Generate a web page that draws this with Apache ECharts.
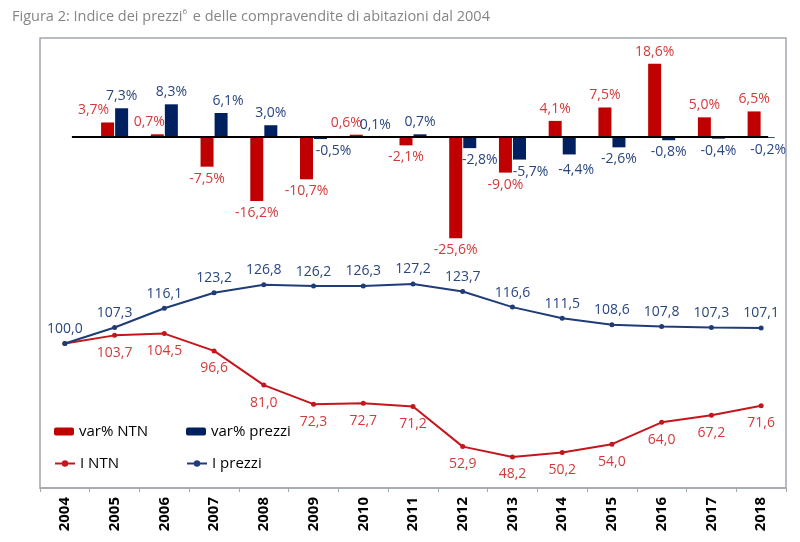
<!DOCTYPE html>
<html>
<head>
<meta charset="utf-8">
<title>Indice dei prezzi e delle compravendite di abitazioni</title>
<script src="https://cdn.jsdelivr.net/npm/echarts@6/dist/echarts.min.js"></script>
<style>
  html, body { margin: 0; padding: 0; background: #fff; }
  #chart { width: 800px; height: 542px; }
</style>
</head>
<body>
<div id="chart"></div>
<script>
// anni
const years = ['2004', '2005', '2006', '2007', '2008', '2009', '2010', '2011',
  '2012', '2013', '2014', '2015', '2016', '2017', '2018'];
// variazioni % annue (nessun dato per il 2004)
const varNtn = [null, 3.7, 0.7, -7.5, -16.2, -10.7, 0.6, -2.1, -25.6, -9.0, 4.1, 7.5, 18.6, 5.0, 6.5];
const varPrezzi = [null, 7.3, 8.3, 6.1, 3.0, -0.5, 0.1, 0.7, -2.8, -5.7, -4.4, -2.6, -0.8, -0.4, -0.2];
// numeri indice, 2004 = 100
const indNtn = [100.0, 103.7, 104.5, 96.6, 81.0, 72.3, 72.7, 71.2, 52.9, 48.2, 50.2, 54.0, 64.0, 67.2, 71.6];
const indPrezzi = [100.0, 107.3, 116.1, 123.2, 126.8, 126.2, 126.3, 127.2, 123.7, 116.6, 111.5, 108.6, 107.8, 107.3, 107.1];

// colori
const RED = '#c00000';
const NAVY = '#002060';
const RED_TXT = '#d33a3a';
const NAVY_TXT = '#2a4680';
const FONT = '"Open Sans", "Liberation Sans", sans-serif';

// piccoli spostamenti delle etichette (indice anno -> [dx, dy]), come nell'originale
const shiftNtn = { 1: [-14, 0], 2: [-8, 0], 6: [-10, 0] };
const shiftPrezzi = { 3: [7, 0], 5: [13, 0], 6: [5, 0], 8: [10, 0], 9: [11, 0], 10: [7, 4] };

const fmt = (v, pct) => v.toFixed(1).replace('.', ',') + (pct ? '%' : '');

function barData(values, shift) {
  return values.map((v, i) => {
    if (v === null) return null;
    return {
      value: v,
      label: {
        position: v < 0 ? 'bottom' : 'top',
        offset: shift[i] || [0, 0]
      }
    };
  });
}

const chart = echarts.init(document.getElementById('chart'));

const legendText = { color: '#000', fontSize: 15, fontFamily: FONT };

chart.setOption({
  animation: false,
  backgroundColor: '#fff',
  title: {
    text: '{a|Figura 2: Indice dei prezzi}{s|6}{a| e delle compravendite di abitazioni dal 2004}',
    left: 7,
    top: 3,
    textStyle: {
      fontWeight: 'normal',
      rich: {
        a: { color: '#858585', fontSize: 14.5, fontWeight: 'normal', fontFamily: FONT },
        s: { color: '#858585', fontSize: 8, fontWeight: 'normal', fontFamily: FONT, padding: [0, 2, 9, 0] }
      }
    }
  },
  legend: [
    { data: ['var% NTN'], left: 54, top: 424, itemWidth: 20, itemHeight: 8, itemGap: 0, textStyle: legendText, padding: 0 },
    { data: ['var% prezzi'], left: 186, top: 424, itemWidth: 20, itemHeight: 8, itemGap: 0, textStyle: legendText, padding: 0 },
    { data: ['I NTN'], left: 54, top: 456, itemWidth: 20, itemHeight: 8, itemGap: 0, textStyle: legendText, padding: 0 },
    { data: ['I prezzi'], left: 186, top: 456, itemWidth: 20, itemHeight: 8, itemGap: 0, textStyle: legendText, padding: 0 }
  ],
  grid: {
    left: 40,
    right: 14,
    top: 38,
    bottom: 54,
    show: true,
    borderColor: '#a3a8b0',
    borderWidth: 1.5
  },
  xAxis: {
    type: 'category',
    data: years,
    boundaryGap: true,
    axisLine: { onZero: false, lineStyle: { color: '#a3a8b0', width: 1.5 } },
    axisTick: { show: true, length: 4, lineStyle: { color: '#a3a8b0' } },
    axisLabel: {
      rotate: 90,
      margin: 9,
      color: '#000',
      fontWeight: 'bold',
      fontSize: 15,
      fontFamily: FONT,
      interval: 0
    },
    splitLine: { show: false }
  },
  yAxis: [
    // scala delle variazioni %
    { type: 'value', min: -88.9, max: 25.1, show: false, splitLine: { show: false } },
    // scala dei numeri indice
    { type: 'value', min: 34, max: 239.5, show: false, splitLine: { show: false } }
  ],
  series: [
    {
      name: 'var% NTN',
      type: 'bar',
      yAxisIndex: 0,
      data: barData(varNtn, shiftNtn),
      barWidth: 13,
      barGap: '8%',
      itemStyle: { color: RED },
      label: {
        show: true,
        distance: 5,
        color: RED_TXT,
        fontSize: 14,
        fontFamily: FONT,
        formatter: p => fmt(p.value, true)
      }
    },
    {
      name: 'var% prezzi',
      type: 'bar',
      yAxisIndex: 0,
      data: barData(varPrezzi, shiftPrezzi),
      barWidth: 13,
      itemStyle: { color: NAVY },
      label: {
        show: true,
        distance: 5,
        color: NAVY_TXT,
        fontSize: 14,
        fontFamily: FONT,
        formatter: p => fmt(p.value, true)
      },
      // linea dello zero delle variazioni
      markLine: {
        silent: true,
        symbol: 'none',
        label: { show: false },
        lineStyle: { color: '#000', width: 2, type: 'solid' },
        data: [[{ coord: ['2004', 0] }, { coord: ['2018', 0] }]]
      }
    },
    {
      name: 'I NTN',
      type: 'line',
      yAxisIndex: 1,
      data: indNtn,
      symbol: 'circle',
      symbolSize: 5,
      lineStyle: { color: '#c4161c', width: 2 },
      itemStyle: { color: '#c4161c' },
      label: {
        show: true,
        position: 'bottom',
        distance: 8,
        color: RED_TXT,
        fontSize: 14,
        fontFamily: FONT,
        // il 2004 coincide con I prezzi: una sola etichetta
        formatter: p => (p.dataIndex === 0 ? '' : fmt(p.value, false))
      }
    },
    {
      name: 'I prezzi',
      type: 'line',
      yAxisIndex: 1,
      data: indPrezzi,
      symbol: 'circle',
      symbolSize: 5,
      z: 3,
      lineStyle: { color: '#1f3c78', width: 2 },
      itemStyle: { color: '#1f3c78' },
      label: {
        show: true,
        position: 'top',
        distance: 5,
        color: NAVY_TXT,
        fontSize: 14,
        fontFamily: FONT,
        formatter: p => fmt(p.value, false)
      }
    }
  ]
});
</script>
</body>
</html>
